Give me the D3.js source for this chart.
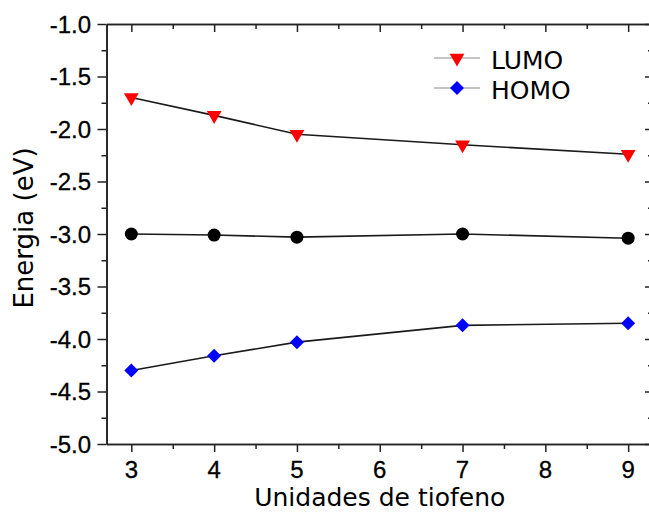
<!DOCTYPE html>
<html>
<head>
<meta charset="utf-8">
<script src="https://cdn.jsdelivr.net/npm/d3@7"></script>
<style>
	body { margin: 0; background: #fff; }
	svg { display: block; }
	.tickLabel { font-family: "Liberation Sans", Arial, sans-serif; font-size: 24px; fill: #000; stroke: #000; stroke-width: 0.3px; }
	.title { font-family: "DejaVu Sans", sans-serif; font-size: 25px; fill: #000; }
</style>
</head>
<body>
<div id="chart"></div>
<script>
// data
var units = [3, 4, 5, 7, 9];
var lumo = [-1.70, -1.87, -2.05, -2.15, -2.24];
var middle = [-3.00, -3.01, -3.03, -3.00, -3.04];
var homo = [-4.30, -4.16, -4.03, -3.87, -3.85];

var xTicks = [3, 4, 5, 6, 7, 8, 9];
var xMinor = [3.5, 4.5, 5.5, 6.5, 7.5, 8.5];
var yTicks = [-5.0, -4.5, -4.0, -3.5, -3.0, -2.5, -2.0, -1.5, -1.0];
var yMinor = [-4.75, -4.25, -3.75, -3.25, -2.75, -2.25, -1.75, -1.25];

var legendNames = ["LUMO", "HOMO"];

var width = 649, height = 512;
var svg = d3.select("#chart").append("svg").attr("width", width).attr("height", height);

var x = d3.scaleLinear().domain([2.7, 9.3]).range([106.5, 653]);
var y = d3.scaleLinear().domain([-5, -1]).range([444, 24]);

// styles every axis the same way
styleAxis = function(g){
	g.selectAll("path.domain").attr("stroke", "#222").attr("stroke-width", 1.6);
	g.selectAll(".tick line").attr("stroke", "#222").attr("stroke-width", 1.5);
	g.selectAll(".tick text").remove();
}

// bottom axis: major + minor ticks, outward
svg.append("g").attr("transform", "translate(0," + y(-5) + ")")
	.call(d3.axisBottom(x).tickValues(xTicks).tickSizeInner(8).tickSizeOuter(0)).call(styleAxis);
svg.append("g").attr("transform", "translate(0," + y(-5) + ")")
	.call(d3.axisBottom(x).tickValues(xMinor).tickSizeInner(5).tickSizeOuter(0)).call(styleAxis);

// top axis: ticks point inward
svg.append("g").attr("transform", "translate(0," + y(-1) + ")")
	.call(d3.axisTop(x).tickValues(xTicks).tickSizeInner(-8).tickSizeOuter(0)).call(styleAxis);
svg.append("g").attr("transform", "translate(0," + y(-1) + ")")
	.call(d3.axisTop(x).tickValues(xMinor).tickSizeInner(-5).tickSizeOuter(0)).call(styleAxis);

// left axis: outward
svg.append("g").attr("transform", "translate(" + x(2.7) + ",0)")
	.call(d3.axisLeft(y).tickValues(yTicks).tickSizeInner(9).tickSizeOuter(0)).call(styleAxis);
svg.append("g").attr("transform", "translate(" + x(2.7) + ",0)")
	.call(d3.axisLeft(y).tickValues(yMinor).tickSizeInner(5).tickSizeOuter(0)).call(styleAxis);

// right axis: inward
svg.append("g").attr("transform", "translate(" + x(9.3) + ",0)")
	.call(d3.axisRight(y).tickValues(yTicks).tickSizeInner(-8).tickSizeOuter(0)).call(styleAxis);
svg.append("g").attr("transform", "translate(" + x(9.3) + ",0)")
	.call(d3.axisRight(y).tickValues(yMinor).tickSizeInner(-5).tickSizeOuter(0)).call(styleAxis);

// tick labels
svg.append("g").selectAll("text").data(xTicks).enter().append("text")
	.attr("class", "tickLabel")
	.attr("x", function(d){ return x(d); })
	.attr("y", 478)
	.attr("text-anchor", "middle")
	.text(function(d){ return d; });

svg.append("g").selectAll("text").data(yTicks).enter().append("text")
	.attr("class", "tickLabel")
	.attr("x", 91)
	.attr("y", function(d){ return y(d); })
	.attr("dy", "0.36em")
	.attr("text-anchor", "end")
	.text(function(d){ return d.toFixed(1); });

// axis titles
svg.append("text").attr("class", "title")
	.attr("x", (x(2.7) + x(9.3)) / 2).attr("y", 506)
	.attr("text-anchor", "middle")
	.text("Unidades de tiofeno");

svg.append("text").attr("class", "title")
	.attr("transform", "translate(33,228) rotate(-90)")
	.attr("text-anchor", "middle")
	.style("font-size", "26px")
	.text("Energia (eV)");

// series
var line = d3.line().x(function(d){ return x(d[0]); }).y(function(d){ return y(d[1]); });
var tri = d3.symbol().type(d3.symbolTriangle).size(95);
var dia = d3.symbol().type(d3.symbolDiamond2).size(125);

drawSeries = function(vals, shape, color, rot){
	var pts = units.map(function(u, i){ return [u, vals[i]]; });
	svg.append("path").datum(pts)
		.attr("d", line)
		.attr("fill", "none")
		.attr("stroke", "#1a1a1a")
		.attr("stroke-width", 1.6);
	var g = svg.append("g");
	if(shape == "circle"){
		g.selectAll("circle").data(pts).enter().append("circle")
			.attr("cx", function(d){ return x(d[0]); })
			.attr("cy", function(d){ return y(d[1]); })
			.attr("r", 6.5)
			.attr("fill", color);
	}else{
		g.selectAll("path").data(pts).enter().append("path")
			.attr("d", shape)
			.attr("transform", function(d){ return "translate(" + x(d[0]) + "," + y(d[1]) + ") rotate(" + rot + ")"; })
			.attr("fill", color);
	}
}

drawSeries(lumo, tri, "#ff0000", 180);
drawSeries(middle, "circle", "#000000", 0);
drawSeries(homo, dia, "#0000ff", 0);

// legend
var legend = svg.append("g");
var legendY = [58, 88];
var legendShapes = [tri, dia];
var legendColors = ["#ff0000", "#0000ff"];
var legendRot = [180, 0];
legendNames.forEach(function(name, i){
	legend.append("line")
		.attr("x1", 434).attr("x2", 480)
		.attr("y1", legendY[i]).attr("y2", legendY[i])
		.attr("stroke", "#c4c4c4").attr("stroke-width", 2);
	legend.append("path")
		.attr("d", legendShapes[i])
		.attr("transform", "translate(457," + legendY[i] + ") rotate(" + legendRot[i] + ")")
		.attr("fill", legendColors[i]);
	legend.append("text").attr("class", "title")
		.attr("x", 491).attr("y", legendY[i] + 11)
		.text(name);
});
</script>
</body>
</html>
